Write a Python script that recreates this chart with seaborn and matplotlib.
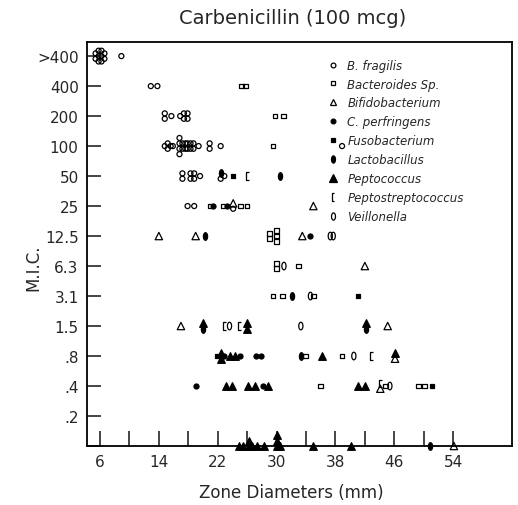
import numpy as np
import pandas as pd
import matplotlib
matplotlib.use("Agg")
import matplotlib.pyplot as plt
import seaborn as sns
from matplotlib.path import Path
from matplotlib.lines import Line2D

# %% data
mic_levels = ['<.2', '.2', '.4', '.8', '1.5', '3.1', '6.3', '12.5',
              '25', '50', '100', '200', '400', '>400']
mic_ticklabels = ['', '.2', '.4', '.8', '1.5', '3.1', '6.3', '12.5',
                  '25', '50', '100', '200', '400', '>400']

bfrag_mm = [5.4, 5.4, 5.8, 5.8, 5.8, 6.2, 6.2, 6.2, 6.6, 6.6, 8.9,
            12.9, 13.8,
            14.8, 14.8, 15.7, 16.9, 17.4, 17.4, 17.9, 17.9,
            14.8, 15.2, 15.2, 15.6, 15.9, 16.8, 16.8, 16.8, 16.8, 17.2, 17.2,
            17.6, 17.6, 17.9, 17.9, 18.3, 18.3, 18.7, 18.7, 19.4, 20.9, 20.9,
            22.4, 38.9,
            17.2, 17.2, 18.3, 18.3, 18.8, 18.8, 19.6, 22.4, 22.9,
            17.9, 18.8, 24.1]
bfrag_mic = ['>400'] * 11 + ['400'] * 2 + ['200'] * 8 + ['100'] * 24 + \
            ['50'] * 9 + ['25'] * 3

bact_mm = [25.2, 25.8, 29.8, 30.9, 29.5, 21.0, 22.7, 25.1, 26.0,
           29.0, 29.0, 30.0, 30.0, 30.0, 30.0, 30.0, 33.0,
           29.5, 30.8, 35.0, 33.9, 38.9, 36.0, 44.8, 49.3, 50.1]
bact_mic = ['400', '400', '200', '200', '100', '25', '25', '25', '25',
            '12.5', '12.5', '12.5', '12.5', '12.5', '6.3', '6.3', '6.3',
            '3.1', '3.1', '3.1', '.8', '.8', '.4', '.4', '.4', '.4']

bifid_mm = [24.1, 35.0, 14.0, 19.0, 33.5, 42.0, 17.0, 45.1, 46.1, 44.1, 54.1]
bifid_mic = ['25', '25', '12.5', '12.5', '12.5', '6.3', '1.5', '1.5', '.8',
             '.4', '<.2']

cperf_mm = [21.3, 23.2, 34.6, 25.0, 27.2, 27.9, 22.8, 19.1, 28.1]
cperf_mic = ['25', '25', '12.5', '.8', '.8', '.8', '.8', '.4', '.4']

fuso_mm = [24.1, 41.0, 21.9, 51.1]
fuso_mic = ['50', '3.1', '.8', '.4']

lacto_mm = [22.4, 30.5, 20.3, 32.1, 20.0, 42.2, 33.3, 50.8]
lacto_mic = ['50', '50', '12.5', '3.1', '1.5', '1.5', '.8', '<.2']

pepto_mm = [20.0, 26.0, 26.0, 42.2,
            22.5, 22.5, 23.6, 24.4, 36.2, 46.1,
            23.1, 24.0, 26.1, 27.1, 28.8, 41.0, 42.0,
            24.95, 25.5, 26.2, 26.2, 26.6, 27.3, 28.3, 30.0, 30.0, 30.0,
            30.5, 35.0, 40.1]
pepto_mic = ['1.5'] * 4 + ['.8'] * 6 + ['.4'] * 7 + ['<.2'] * 13

peptostrep_mm = [26.0, 22.9, 25.0, 42.9, 44.1]
peptostrep_mic = ['50', '1.5', '1.5', '.8', '.4']

veil_mm = [37.3, 37.7, 31.0, 34.6, 23.6, 33.3, 40.5, 45.4]
veil_mic = ['12.5', '12.5', '6.3', '3.1', '1.5', '1.5', '.8', '.4']

species = ['B. fragilis', 'Bacteroides Sp.', 'Bifidobacterium',
           'C. perfringens', 'Fusobacterium', 'Lactobacillus',
           'Peptococcus', 'Peptostreptococcus', 'Veillonella']
species_mm = [bfrag_mm, bact_mm, bifid_mm, cperf_mm, fuso_mm, lacto_mm,
              pepto_mm, peptostrep_mm, veil_mm]
species_mic = [bfrag_mic, bact_mic, bifid_mic, cperf_mic, fuso_mic,
               lacto_mic, pepto_mic, peptostrep_mic, veil_mic]

# %% markers
t = np.linspace(0, 2 * np.pi, 40)
oval = Path(np.column_stack([0.55 * np.cos(t), np.sin(t)]), closed=True)
bracket = Path([(0.4, 1), (-0.4, 1), (-0.4, -1), (0.4, -1)],
               [Path.MOVETO, Path.LINETO, Path.LINETO, Path.LINETO])

# marker, filled, size
styles = {
    'B. fragilis': ('o', False, 13),
    'Bacteroides Sp.': ('s', False, 11),
    'Bifidobacterium': ('^', False, 28),
    'C. perfringens': ('o', True, 13),
    'Fusobacterium': ('s', True, 11),
    'Lactobacillus': (oval, True, 30),
    'Peptococcus': ('^', True, 30),
    'Peptostreptococcus': (bracket, False, 30),
    'Veillonella': (oval, False, 30),
}

# %% build table, stack points that share a column
records = []
for name, mm, mic in zip(species, species_mm, species_mic):
    for x, m in zip(mm, mic):
        records.append((name, x, mic_levels.index(m)))
df = pd.DataFrame(records, columns=['species', 'mm', 'row'])
grp = df.groupby(['row', 'mm'])
df['level'] = grp.cumcount()
df['n'] = grp['mm'].transform('size')
shift = np.where(df['row'] == 0, 0, (df['n'] - 1) / 2)
df['y'] = df['row'] + (df['level'] - shift) * 0.18

# %% plot
sns.set_style('white')
plt.rcParams['font.family'] = ['DejaVu Sans']

fig = plt.figure(figsize=(5.18, 5.06), dpi=100)
ax = fig.add_axes([87 / 518, 59 / 506, 425 / 518, 404 / 506])

for name in species:
    marker, filled, size = styles[name]
    sub = df[df['species'] == name]
    sns.scatterplot(data=sub, x='mm', y='y', marker=marker, s=size,
                    facecolor='black' if filled else 'none',
                    edgecolor='black', linewidth=0.9, ax=ax,
                    legend=False, clip_on=False, zorder=3)

ax.set_xlim(4.23, 62.0)
ax.set_ylim(0, 13.47)

xt = np.arange(6, 55, 4)
ax.set_xticks(xt)
ax.set_xticklabels([str(v) if (v - 6) % 8 == 0 else '' for v in xt],
                   fontsize=11)
ax.set_yticks(range(len(mic_levels)))
ax.set_yticklabels(mic_ticklabels, fontsize=11)
ax.tick_params(axis='x', direction='in', length=11, width=1.2, pad=6)
ax.tick_params(axis='y', direction='in', length=10, width=1.2, pad=6)
ax.tick_params(left=True, bottom=True)
ax.set_xlabel('')
ax.set_ylabel('')
for sp in ax.spines.values():
    sp.set_visible(True)
    sp.set_color('black')
    sp.set_linewidth(1.3)

handles = []
for name in species:
    marker, filled, size = styles[name]
    handles.append(Line2D([], [], linestyle='none', marker=marker,
                          markersize=np.sqrt(size) * 0.95,
                          markerfacecolor='black' if filled else 'none',
                          markeredgecolor='black', markeredgewidth=0.9))
ax.legend(handles, species, loc='upper left', bbox_to_anchor=(0.54, 0.985),
          frameon=False, handlelength=1.0, handletextpad=0.7,
          labelspacing=0.5, prop={'style': 'italic', 'size': 8.5})

fig.text(0.565, 0.963, 'Carbenicillin (100 mcg)', ha='center', va='center',
         fontsize=14)
fig.text(0.562, 0.026, 'Zone Diameters (mm)', ha='center', va='center',
         fontsize=12)
fig.text(0.064, 0.47, 'M.I.C.', ha='center', va='center', rotation=90,
         fontsize=12)

fig.savefig('out.png', dpi=100)
